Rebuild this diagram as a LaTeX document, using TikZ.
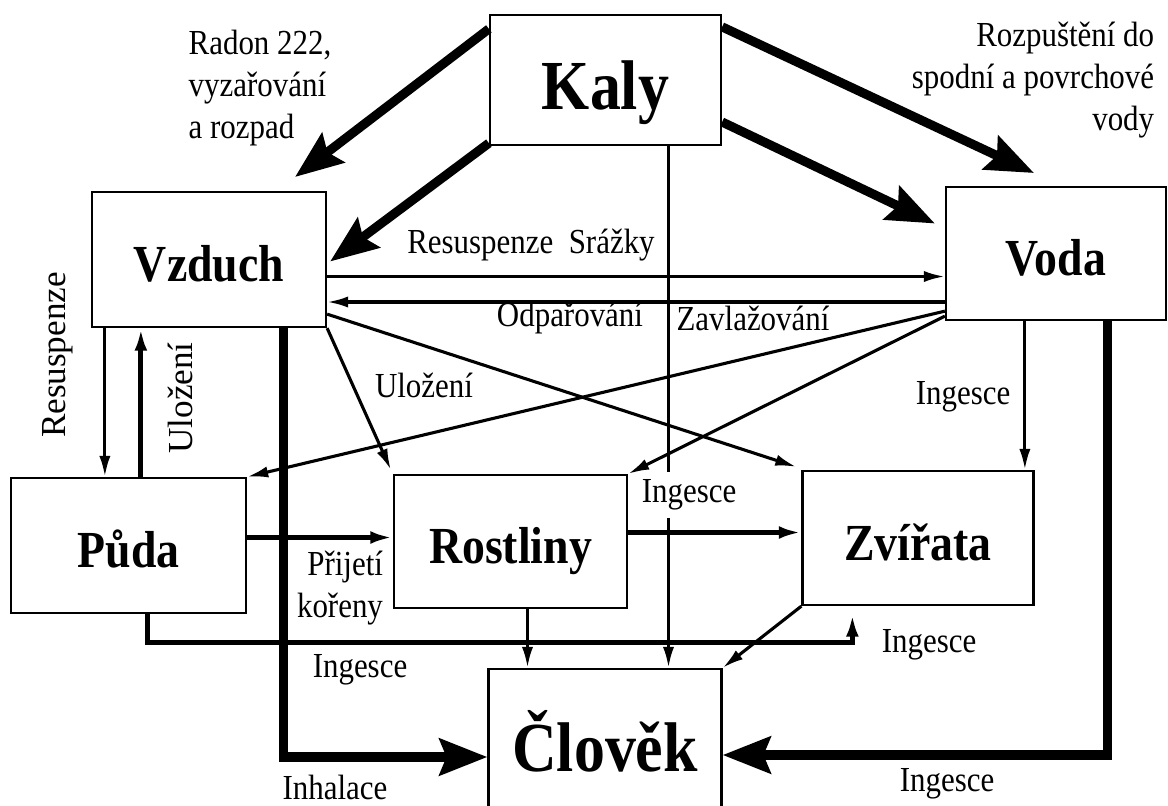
\documentclass[tikz,border=0pt]{standalone}
\usepackage{fontspec}
\setmainfont{Liberation Serif}[FakeStretch=0.88]
\newfontfamily\plainfont{Liberation Serif}
\usetikzlibrary{arrows.meta,calc}

\begin{document}
\begin{tikzpicture}[x=0.025cm,y=-0.025cm,
    box/.style={draw,line width=1.6pt,inner sep=0pt,text depth=0pt},
    flow/.style={line width=2.2pt,-{Latex[length=15pt,width=8pt]}},
    medium/.style={line width=3.4pt,-{Latex[length=16pt,width=9pt]}},
    heavy/.style={line width=6.5pt,-{Stealth[length=34pt,width=26pt,inset=5pt]}},
    lbl/.style={font=\fontsize{25}{30}\selectfont,inner sep=0pt},
    side/.style={lbl,rotate=90,font=\plainfont\fontsize{25}{30}\selectfont}]
      \clip (0,0) rectangle (1168,805);
      \def \Boxes{
        kaly/605.5/80/231/130/50/Kaly,
        vzduch/209/259.5/234/135/37/Vzduch,
        voda/1056/253.5/220/133/37/Voda,
        puda/128.5/545.5/235/135/37/Půda,
        rostliny/510.5/541.5/233/133/37/Rostliny,
        zvirata/918/538/231/134/37/Zvířata,
        clovek/605/742/233/146/50/Člověk}
      \foreach \id / \x / \y / \w / \h / \fs / \lb in \Boxes{
        \node[box,minimum width=\w*0.025cm,minimum height=\h*0.025cm,text height=0.85*\fs*1pt,
          font=\fontsize{\fs}{\fs}\selectfont\bfseries] (\id) at (\x, \y) {\lb};
      }
      \coordinate (radontip) at (295,177);
      \coordinate (vodytip) at (1034,173);
      \draw[heavy] ($(kaly.north west)+(0,15)$) -- (radontip);
      \draw[heavy] ($(kaly.south west)+(0,-3)$) -- ($(vzduch.east)+(3,2)$);
      \draw[heavy] ($(kaly.north east)+(0,13)$) -- (vodytip);
      \draw[heavy] ($(kaly.east)+(0,42)$) -- ($(voda.west)+(-10,-30)$);
      \draw[flow] ($(kaly.south)+(63,0)$) coordinate (k1) -- (k1 |- clovek.north);
      \draw[flow] ($(vzduch.east)+(0,17)$) coordinate (v1) -- (v1 -| voda.west);
      \draw[flow] ($(voda.west)+(0,48.5)$) coordinate (v2) -- (v2 -| vzduch.east);
      \draw[flow] ($(voda.south west)+(0,-10)$) -- (puda.north east);
      \draw[flow] ($(voda.south west)+(0,-5)$) -- (rostliny.north east);
      \draw[flow] ($(vzduch.south east)+(0,-14)$) -- ($(zvirata.north west)+(-5,-3)$);
      \draw[flow] (vzduch.south east) -- ($(rostliny.north west)+(-2,-4)$);
      \draw[flow] ($(vzduch.south west)+(14,0)$) coordinate (r1) -- (r1 |- puda.north);
      \draw[medium] ($(puda.north west)+(131,0)$) coordinate (u1) -- (u1 |- vzduch.south);
      \draw[heavy] ($(vzduch.south east)+(-44,0)$) |- ($(clovek.west)+(0,15)$);
      \draw[medium] ($(puda.east)+(0,-8)$) coordinate (p1) -- (p1 -| rostliny.west);
      \draw[medium] ($(rostliny.east)+(0,-9)$) coordinate (r2) -- (r2 -| zvirata.west);
      \draw[medium] ($(puda.south west)+(138,0)$) -- ++(0,28) -| ($(zvirata.south west)+(51,8)$);
      \draw[flow] ($(rostliny.south)+(17,0)$) coordinate (r3) -- (r3 |- clovek.north);
      \draw[flow] (zvirata.south west) -- (clovek.north east);
      \draw[flow] ($(voda.south west)+(80,0)$) coordinate (w1) -- (w1 |- zvirata.north);
      \draw[heavy] ($(voda.south west)+(163,0)$) |- ($(clovek.east)+(0,13)$);
      \node[lbl,align=left] (radon) at (260,88) {Radon 222,\\vyzařování\\a rozpad};
      \node[lbl,align=right] (rozpust) at (1033,80) {Rozpuštění do\\spodní a povrchové\\vody};
      \node[lbl] (srazky) at (531,245) {Resuspenze\ \ Srážky};
      \node[lbl] (odpar) at (570,318) {Odpařování};
      \node[lbl] (zavlaz) at (753,318) {Zavlažování};
      \node[lbl] (ulozeni) at (424,385) {Uložení};
      \node[side] (resusp) at (58,355) {Resuspenze};
      \node[side] (ulozeni2) at (180,398) {Uložení};
      \node[lbl,align=right] (prijeti) at (340,588) {Přijetí\\kořeny};
      \node[lbl,fill=white,inner ysep=5.5pt] (ingesce1) at (689,495) {Ingesce};
      \node[lbl] (ingesce2) at (963,397) {Ingesce};
      \node[lbl] (ingesce3) at (360,670) {Ingesce};
      \node[lbl] (ingesce4) at (929,645) {Ingesce};
      \node[lbl] (inhal) at (335,787) {Inhalace};
      \node[lbl] (ingesce5) at (947,784) {Ingesce};
    \end{tikzpicture}
\end{document}
